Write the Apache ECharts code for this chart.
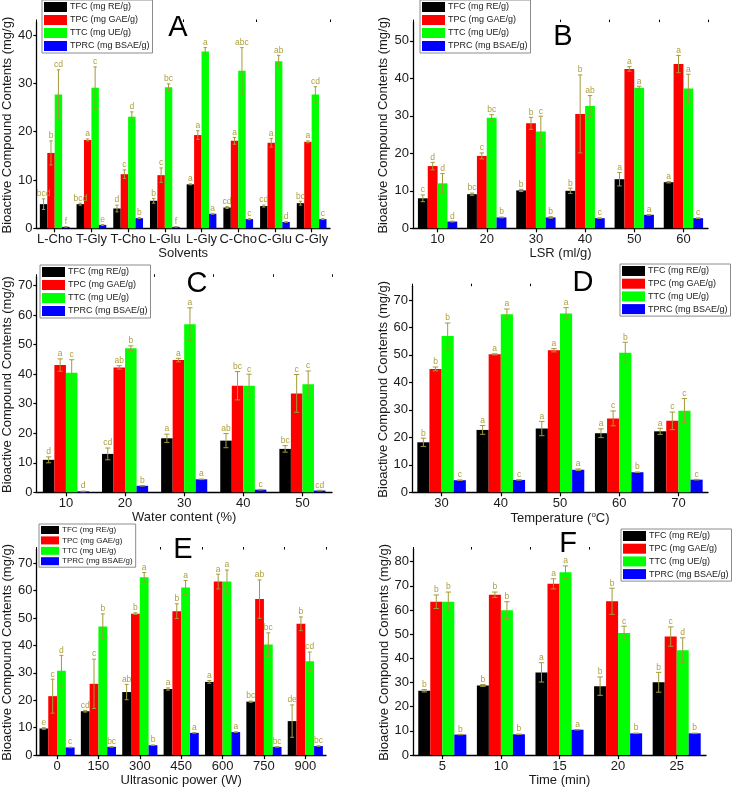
<!DOCTYPE html>
<html><head><meta charset="utf-8">
<script src="https://cdn.jsdelivr.net/npm/echarts@6/dist/echarts.min.js"></script>
<style>html,body{margin:0;padding:0;background:#fff}#c{width:742px;height:788px}</style>
</head><body><div id="c"></div>
<script>
// ---------- DATA ----------
const seriesNames = ['TFC (mg RE/g)', 'TPC (mg GAE/g)', 'TTC (mg UE/g)', 'TPRC (mg BSAE/g)'];

// Panel A – Solvents
const A_categories = ['L-Cho', 'T-Gly', 'T-Cho', 'L-Glu', 'L-Gly', 'C-Cho', 'C-Glu', 'C-Gly'];
const A_TFC = [5.0, 5.0, 4.1, 5.7, 9.1, 4.3, 4.6, 5.2];
const A_TFC_sd = [1.1, 0.2, 0.7, 0.5, 0.1, 0.2, 0.2, 0.4];
const A_TFC_sig = ['bcd', 'bcd', 'd', 'b', 'a', 'cd', 'cd', 'bc'];
const A_TPC = [15.6, 18.3, 11.2, 11.0, 19.3, 18.1, 17.7, 17.9];
const A_TPC_sd = [2.5, 0.2, 0.9, 1.5, 0.9, 0.7, 0.9, 0.2];
const A_TPC_sig = ['b', 'a', 'c', 'c', 'a', 'a', 'a', 'a'];
const A_TTC = [27.7, 29.1, 23.1, 29.2, 36.6, 32.6, 34.6, 27.7];
const A_TTC_sd = [5.1, 4.3, 1.0, 0.7, 0.8, 4.8, 1.2, 1.6];
const A_TTC_sig = ['cd', 'c', 'd', 'bc', 'a', 'abc', 'ab', 'cd'];
const A_TPRC = [0.3, 0.7, 2.1, 0.3, 3.0, 1.9, 1.3, 1.9];
const A_TPRC_sd = [0.05, 0.1, 0.1, 0.05, 0.1, 0.1, 0.1, 0.1];
const A_TPRC_sig = ['f', 'e', 'b', 'f', 'a', 'c', 'd', 'c'];

// Panel B – LSR (ml/g)
const B_categories = ['10', '20', '30', '40', '50', '60'];
const B_TFC = [8.0, 9.1, 10.1, 10.0, 13.1, 12.3];
const B_TFC_sd = [0.9, 0.3, 0.3, 0.7, 1.8, 0.2];
const B_TFC_sig = ['c', 'bc', 'b', 'b', 'a', 'a'];
const B_TPC = [16.6, 19.3, 28.0, 30.5, 42.5, 43.8];
const B_TPC_sd = [1.0, 0.8, 1.6, 10.4, 0.6, 2.3];
const B_TPC_sig = ['d', 'c', 'b', 'b', 'a', 'a'];
const B_TTC = [12.0, 29.5, 25.8, 32.6, 37.5, 37.3];
const B_TTC_sd = [2.6, 0.8, 4.1, 2.8, 0.4, 3.8];
const B_TTC_sig = ['d', 'bc', 'c', 'ab', 'a', 'a'];
const B_TPRC = [1.8, 2.9, 2.9, 2.7, 3.6, 2.7];
const B_TPRC_sd = [0.1, 0.1, 0.2, 0.1, 0.1, 0.1];
const B_TPRC_sig = ['d', 'b', 'b', 'c', 'a', 'c'];

// Panel C – Water content (%)
const C_categories = ['10', '20', '30', '40', '50'];
const C_TFC = [11.0, 13.0, 18.3, 17.5, 14.7];
const C_TFC_sd = [1.0, 2.0, 1.4, 2.4, 1.1];
const C_TFC_sig = ['d', 'cd', 'a', 'ab', 'bc'];
const C_TPC = [43.1, 42.3, 44.8, 36.1, 33.5];
const C_TPC_sd = [2.1, 0.6, 0.6, 4.8, 6.4];
const C_TPC_sig = ['a', 'ab', 'a', 'bc', 'c'];
const C_TTC = [40.5, 48.8, 56.9, 36.1, 36.6];
const C_TTC_sd = [4.4, 0.8, 5.6, 3.9, 4.5];
const C_TTC_sig = ['c', 'b', 'a', 'c', 'c'];
const C_TPRC = [0.3, 2.2, 4.4, 0.9, 0.6];
const C_TPRC_sd = [0.1, 0.1, 0.1, 0.1, 0.1];
const C_TPRC_sig = ['d', 'b', 'a', 'c', 'cd'];

// Panel D – Temperature (°C)
const D_categories = ['30', '40', '50', '60', '70'];
const D_TFC = [18.2, 22.7, 23.2, 21.5, 22.2];
const D_TFC_sd = [1.5, 1.6, 2.6, 1.6, 1.1];
const D_TFC_sig = ['b', 'a', 'a', 'a', 'a'];
const D_TPC = [44.9, 50.2, 51.7, 26.9, 26.0];
const D_TPC_sd = [0.7, 0.2, 0.6, 2.7, 3.2];
const D_TPC_sig = ['b', 'a', 'a', 'c', 'c'];
const D_TTC = [56.9, 64.8, 65.1, 50.8, 29.7];
const D_TTC_sd = [4.7, 1.9, 2.1, 3.8, 4.4];
const D_TTC_sig = ['b', 'a', 'a', 'b', 'c'];
const D_TPRC = [4.4, 4.5, 8.2, 7.3, 4.6];
const D_TPRC_sd = [0.1, 0.1, 0.3, 0.1, 0.1];
const D_TPRC_sig = ['c', 'c', 'a', 'b', 'c'];

// Panel E – Ultrasonic power (W)
const E_categories = ['0', '150', '300', '450', '600', '750', '900'];
const E_TFC = [9.7, 16.0, 23.0, 24.1, 26.7, 19.5, 12.4];
const E_TFC_sd = [0.3, 0.3, 2.8, 0.4, 0.5, 0.2, 5.9];
const E_TFC_sig = ['e', 'cd', 'ab', 'a', 'a', 'bc', 'de'];
const E_TPC = [21.5, 26.0, 51.6, 52.5, 63.3, 56.9, 47.9];
const E_TPC_sd = [6.2, 9.0, 0.3, 2.7, 2.7, 7.0, 2.5];
const E_TPC_sig = ['c', 'c', 'b', 'b', 'a', 'ab', 'b'];
const E_TTC = [30.8, 46.9, 64.9, 61.1, 63.3, 40.3, 34.2];
const E_TTC_sd = [5.6, 4.6, 1.7, 2.6, 4.2, 4.3, 3.4];
const E_TTC_sig = ['d', 'b', 'a', 'a', 'a', 'bc', 'cd'];
const E_TPRC = [2.8, 3.0, 3.6, 8.1, 8.4, 3.0, 3.3];
const E_TPRC_sd = [0.1, 0.1, 0.1, 0.1, 0.1, 0.1, 0.1];
const E_TPRC_sig = ['c', 'bc', 'b', 'a', 'a', 'bc', 'bc'];

// Panel F – Time (min)
const F_categories = ['5', '10', '15', '20', '25'];
const F_TFC = [26.6, 28.8, 34.2, 28.5, 30.1];
const F_TFC_sd = [0.5, 0.4, 4.0, 3.8, 4.1];
const F_TFC_sig = ['b', 'b', 'a', 'b', 'b'];
const F_TPC = [63.4, 66.3, 70.8, 63.6, 49.0];
const F_TPC_sd = [2.8, 1.1, 2.1, 5.4, 4.0];
const F_TPC_sig = ['b', 'b', 'a', 'b', 'c'];
const F_TTC = [63.4, 59.9, 75.6, 50.5, 43.3];
const F_TTC_sd = [4.0, 3.5, 2.6, 2.8, 5.2];
const F_TTC_sig = ['b', 'b', 'a', 'c', 'd'];
const F_TPRC = [8.5, 8.6, 10.5, 9.0, 9.0];
const F_TPRC_sd = [0.1, 0.1, 0.1, 0.1, 0.1];
const F_TPRC_sig = ['b', 'b', 'a', 'b', 'b'];

// ---------- STYLE / LAYOUT ----------
const FONT = '"Liberation Sans", Arial, sans-serif';
const TXT = '#1a1a1a';
const barColors = ['#000000', '#ff0000', '#00ff00', '#0000ff'];
const errColor = '#a39a3a';
const sigColor = '#aea03c';

const panels = [
  { tag: 'A', cats: A_categories, vals: [A_TFC, A_TPC, A_TTC, A_TPRC], sds: [A_TFC_sd, A_TPC_sd, A_TTC_sd, A_TPRC_sd], sigs: [A_TFC_sig, A_TPC_sig, A_TTC_sig, A_TPRC_sig],
    grid: { left: 35, top: 22, width: 295, height: 206.3 }, max: 42.7, gap: 0.19, xName: 'Solvents', xNameGap: 18, yNameGap: 21,
    legend: { left: 42, top: 0, w: 23, h: 10, gap: 3, fs: 9 }, letter: [178, 28] },
  { tag: 'B', cats: B_categories, vals: [B_TFC, B_TPC, B_TTC, B_TPRC], sds: [B_TFC_sd, B_TPC_sd, B_TTC_sd, B_TPRC_sd], sigs: [B_TFC_sig, B_TPC_sig, B_TTC_sig, B_TPRC_sig],
    grid: { left: 413, top: 22.1, width: 295, height: 206.2 }, max: 55, gap: 0.2, xName: 'LSR (ml/g)', xNameGap: 14, yNameGap: 23,
    legend: { left: 420, top: 0, w: 23, h: 10, gap: 3, fs: 9 }, letter: [563, 37] },
  { tag: 'C', cats: C_categories, vals: [C_TFC, C_TPC, C_TTC, C_TPRC], sds: [C_TFC_sd, C_TPC_sd, C_TTC_sd, C_TPRC_sd], sigs: [C_TFC_sig, C_TPC_sig, C_TTC_sig, C_TPRC_sig],
    grid: { left: 35, top: 276.8, width: 297, height: 215.5 }, max: 73, gap: 0.22, xName: 'Water content (%)', xNameGap: 14, yNameGap: 20,
    legend: { left: 40, top: 265, w: 23, h: 10, gap: 3, fs: 9 }, letter: [197, 284] },
  { tag: 'D', cats: D_categories, vals: [D_TFC, D_TPC, D_TTC, D_TPRC], sds: [D_TFC_sd, D_TPC_sd, D_TTC_sd, D_TPRC_sd], sigs: [D_TFC_sig, D_TPC_sig, D_TTC_sig, D_TPRC_sig],
    grid: { left: 412, top: 286.2, width: 296, height: 206.1 }, max: 75, gap: 0.18, xName: '{n|Temperature (}{s|o}{n|C)}', xNameGap: 14, yNameGap: 22,
    legend: { left: 620, top: 264, w: 23, h: 10, gap: 2.7, fs: 9 }, letter: [583, 283] },
  { tag: 'E', cats: E_categories, vals: [E_TFC, E_TPC, E_TTC, E_TPRC], sds: [E_TFC_sd, E_TPC_sd, E_TTC_sd, E_TPRC_sd], sigs: [E_TFC_sig, E_TPC_sig, E_TTC_sig, E_TPRC_sig],
    grid: { left: 35, top: 549.5, width: 291, height: 206.2 }, max: 75, gap: 0.15, xName: 'Ultrasonic power (W)', xNameGap: 17, yNameGap: 21,
    legend: { left: 39, top: 524, w: 18, h: 8, gap: 2.4, fs: 8 }, letter: [183, 550] },
  { tag: 'F', cats: F_categories, vals: [F_TFC, F_TPC, F_TTC, F_TPRC], sds: [F_TFC_sd, F_TPC_sd, F_TTC_sd, F_TPRC_sd], sigs: [F_TFC_sig, F_TPC_sig, F_TTC_sig, F_TPRC_sig],
    grid: { left: 413, top: 549.5, width: 293, height: 206.8 }, max: 85, gap: 0.18, xName: 'Time (min)', xNameGap: 17, yNameGap: 22,
    legend: { left: 621, top: 529, w: 23, h: 10, gap: 2.7, fs: 9 }, letter: [568, 544] }
];

const option = {
  backgroundColor: '#ffffff',
  animation: false,
  textStyle: { fontFamily: FONT, color: TXT },
  grid: [], xAxis: [], yAxis: [], series: [], legend: [], graphic: []
};

panels.forEach((p, i) => {
  option.grid.push(Object.assign({ containLabel: false }, p.grid));
  const axisLine = { show: true, lineStyle: { color: '#000', width: 1.3 } };
  // main x axis (labels + ticks at centers)
  option.xAxis.push({
    type: 'category', gridIndex: i, data: p.cats,
    axisLine: axisLine,
    axisTick: { show: true, alignWithLabel: true, length: 4, lineStyle: { color: '#000', width: 1.2 } },
    axisLabel: { interval: 0, margin: 5, fontSize: 13, color: TXT, fontFamily: FONT, hideOverlap: false },
    splitLine: { show: false },
    name: p.xName, nameLocation: 'middle', nameGap: p.xNameGap,
    nameTextStyle: { fontSize: 13, color: TXT, fontFamily: FONT,
      rich: { n: { fontSize: 13, color: TXT, fontFamily: FONT }, s: { fontSize: 8, color: TXT, fontFamily: FONT, verticalAlign: 'top', padding: [0, 0, 6, 0] } } }
  });
  // minor x ticks at category boundaries
  option.xAxis.push({
    type: 'category', gridIndex: i, data: p.cats,
    axisLine: { show: false },
    axisTick: { show: true, alignWithLabel: false, length: 2.5, lineStyle: { color: '#000', width: 1 } },
    axisLabel: { show: false }, splitLine: { show: false }
  });
  option.yAxis.push({
    type: 'value', gridIndex: i, min: 0, max: p.max, interval: 10,
    axisLine: axisLine,
    axisTick: { show: true, length: 3, lineStyle: { color: '#000', width: 1.2 } },
    axisLabel: { margin: 4, fontSize: 13, color: TXT, fontFamily: FONT, showMaxLabel: false },
    splitLine: { show: false },
    name: 'Bioactive Compound Contents (mg/g)', nameLocation: 'middle', nameGap: p.yNameGap,
    nameTextStyle: { fontSize: 13, color: TXT, fontFamily: FONT }
  });
  const xi = i * 2;
  p.vals.forEach((arr, k) => {
    option.series.push({
      type: 'bar', name: seriesNames[k], xAxisIndex: xi, yAxisIndex: i,
      data: arr, barGap: '0%', barCategoryGap: (p.gap * 100) + '%',
      itemStyle: { color: barColors[k] }, z: 2
    });
  });
  // error bars + significance letters
  const errData = [], sigList = [];
  p.vals.forEach((arr, k) => {
    arr.forEach((v, c) => { errData.push([c, v, p.sds[k][c], k]); sigList.push(p.sigs[k][c]); });
  });
  const gapR = p.gap;
  option.series.push({
    type: 'custom', xAxisIndex: xi, yAxisIndex: i, z: 5, silent: true,
    data: errData,
    renderItem: function (params, api) {
      const c = api.value(0), v = api.value(1), sd = api.value(2), k = api.value(3);
      const band = api.size([1, 0])[0];
      const grp = band * (1 - gapR);
      const bw = grp / 4;
      const base = api.coord([c, v]);
      const cx = base[0] - grp / 2 + (k + 0.5) * bw;
      const yt = api.coord([c, v + sd])[1];
      const yb = api.coord([c, Math.max(v - sd, 0)])[1];
      const cw = Math.max(bw * 0.45, 3);
      const ls = { stroke: errColor, lineWidth: 1 };
      return {
        type: 'group', children: [
          { type: 'line', shape: { x1: cx, y1: yb, x2: cx, y2: yt }, style: ls },
          { type: 'line', shape: { x1: cx - cw / 2, y1: yt, x2: cx + cw / 2, y2: yt }, style: ls },
          { type: 'line', shape: { x1: cx - cw / 2, y1: yb, x2: cx + cw / 2, y2: yb }, style: ls },
          { type: 'text', style: { text: sigList[params.dataIndex], x: cx, y: yt - 0.5, align: 'center', verticalAlign: 'bottom',
            fill: sigColor, fontSize: 8.5, fontFamily: FONT } }
        ]
      };
    }
  });
  const L = p.legend;
  option.legend.push({
    data: seriesNames, orient: 'vertical', left: L.left, top: L.top,
    icon: 'rect', itemWidth: L.w, itemHeight: L.h, itemGap: L.gap,
    selectedMode: false,
    backgroundColor: '#fff', borderColor: '#8c8c8c', borderWidth: 1, borderRadius: 0,
    padding: [2, 3, 2, 2],
    textStyle: { fontSize: L.fs, color: TXT, fontFamily: FONT, lineHeight: L.h, padding: [0, 0, 0, -2] }
  });
  option.graphic.push({
    type: 'text', x: p.letter[0], y: p.letter[1],
    style: { text: p.tag, fontSize: 29, fontFamily: FONT, fill: '#000', align: 'center', verticalAlign: 'middle' }
  });
});

const chart = echarts.init(document.getElementById('c'), null, { renderer: 'canvas' });
chart.setOption(option);
</script>
</body></html>
